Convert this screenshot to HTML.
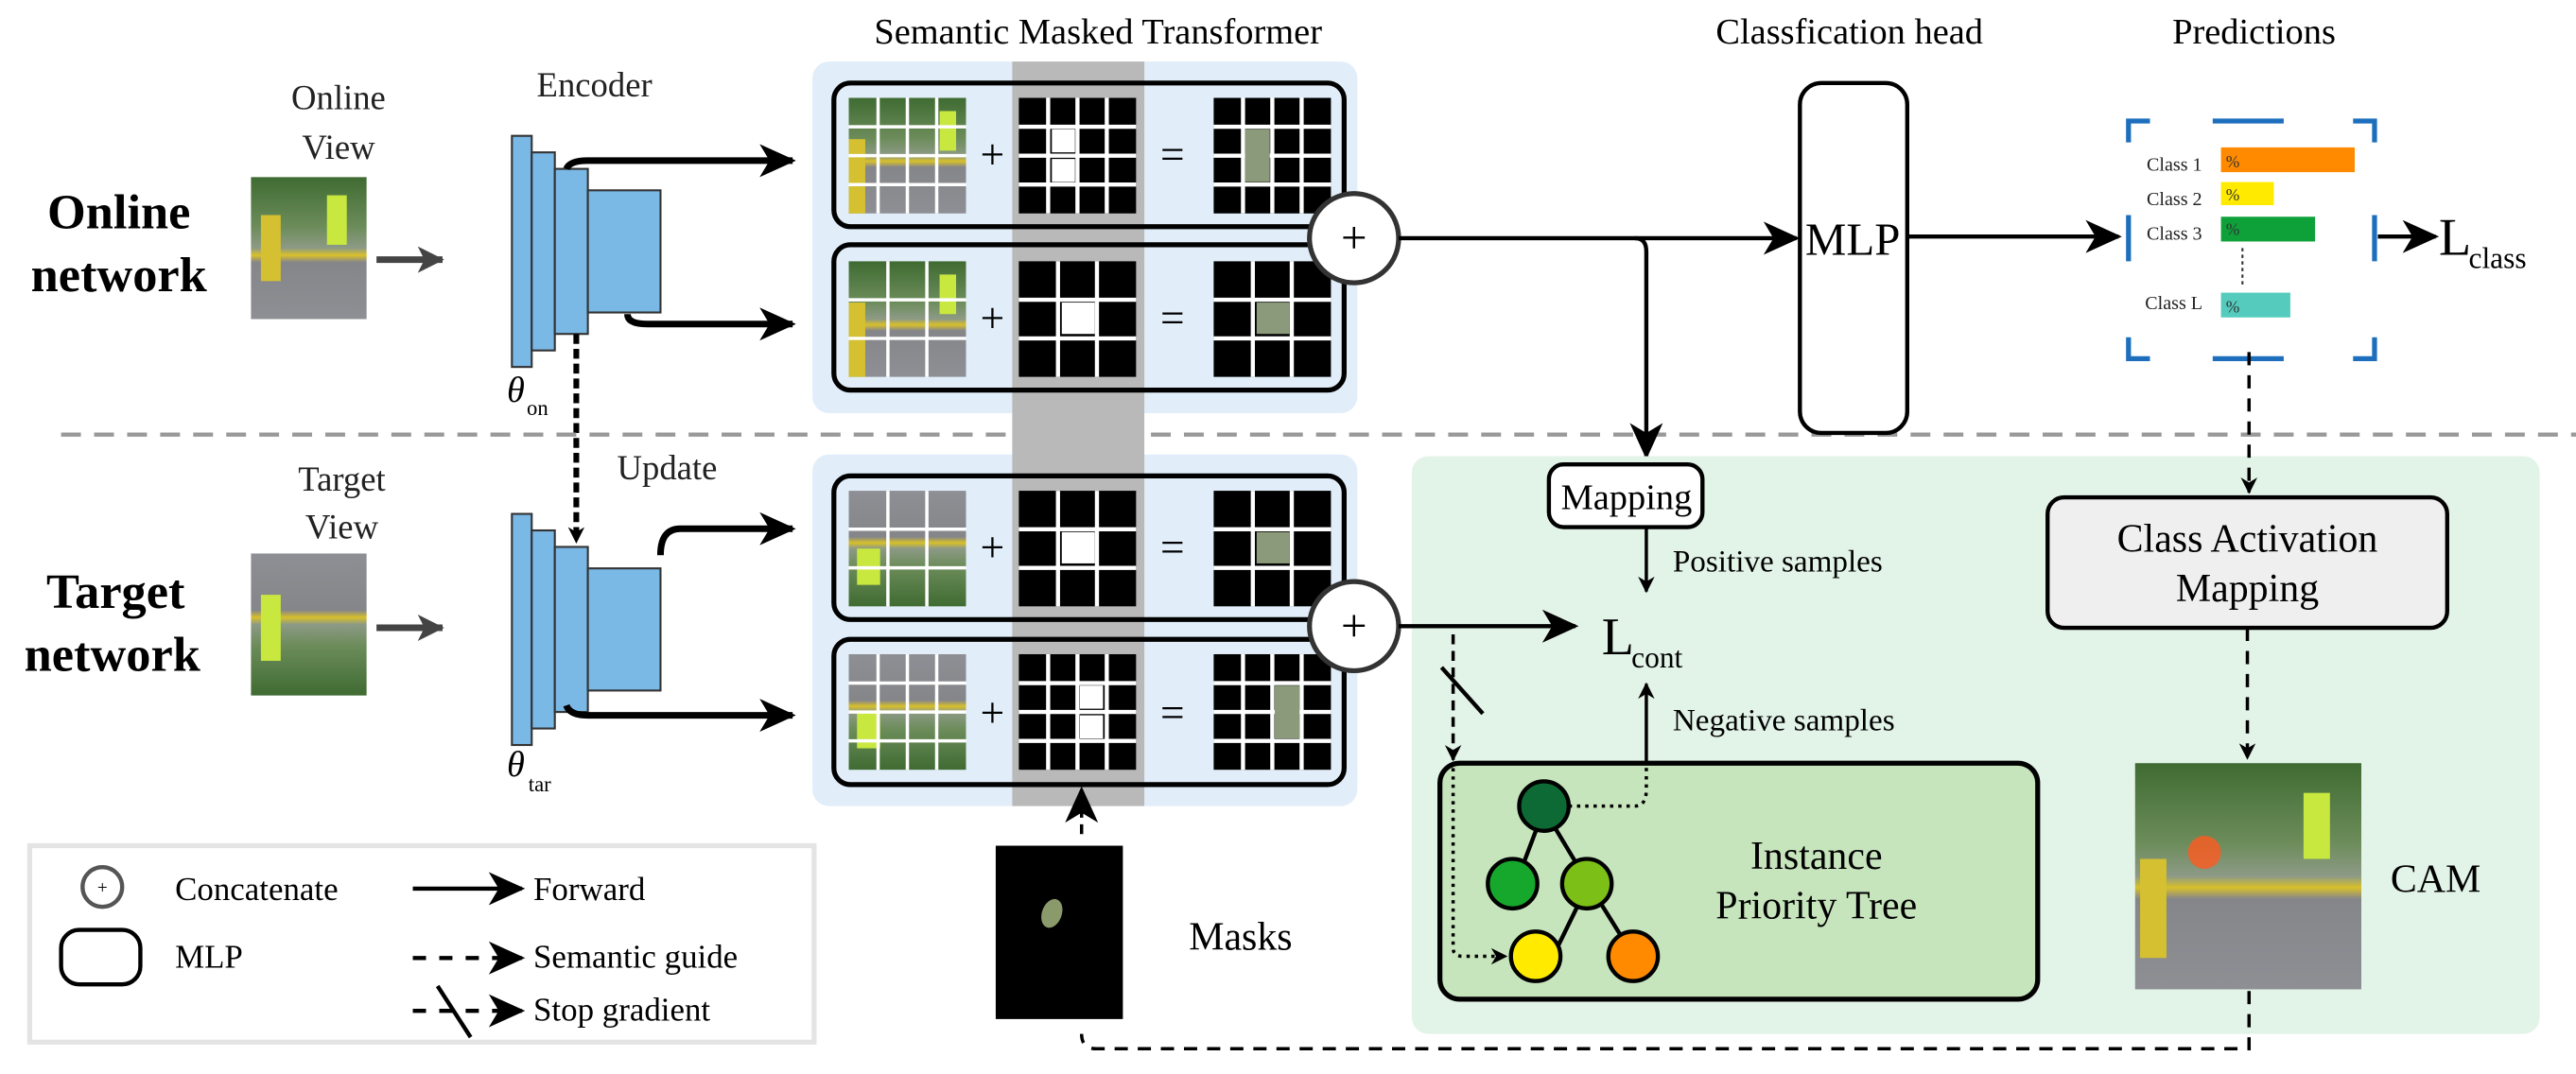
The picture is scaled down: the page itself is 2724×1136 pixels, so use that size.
<!DOCTYPE html>
<html><head><meta charset="utf-8"><style>
html,body{margin:0;padding:0;background:#fff;}
svg{display:block;}
svg text{font-family:"Liberation Serif",serif !important;}
</style></head><body>
<svg width="2724" height="1136" viewBox="0 0 1560 650" xmlns="http://www.w3.org/2000/svg" style="font-family:'Liberation Serif',serif">
<defs>
<marker id="ah" markerWidth="10" markerHeight="10" refX="9" refY="5" orient="auto" markerUnits="userSpaceOnUse" viewBox="0 0 10 10"><path d="M0,0 L10,5 L0,10 L3,5 Z" fill="#000"/></marker>
<marker id="ahL" markerWidth="22" markerHeight="20" refX="20" refY="10" orient="auto" markerUnits="userSpaceOnUse" viewBox="0 0 22 20"><path d="M0,0 L22,10 L0,20 L6,10 Z" fill="#000"/></marker>
<marker id="ahG" markerWidth="16" markerHeight="16" refX="15" refY="8" orient="auto" markerUnits="userSpaceOnUse" viewBox="0 0 16 16"><path d="M0,0 L16,8 L0,16 L4,8 Z" fill="#444"/></marker>
<linearGradient id="ph" x1="0" y1="0" x2="0" y2="1">
<stop offset="0" stop-color="#3f6b32"/><stop offset="0.35" stop-color="#6c8c5a"/><stop offset="0.5" stop-color="#8d9a86"/><stop offset="0.55" stop-color="#d8c02a"/><stop offset="0.6" stop-color="#85868a"/><stop offset="1" stop-color="#8e8f94"/></linearGradient>
<linearGradient id="ph2" x1="0" y1="1" x2="0" y2="0">
<stop offset="0" stop-color="#3f6b32"/><stop offset="0.35" stop-color="#6c8c5a"/><stop offset="0.5" stop-color="#8d9a86"/><stop offset="0.55" stop-color="#d8c02a"/><stop offset="0.6" stop-color="#85868a"/><stop offset="1" stop-color="#8e8f94"/></linearGradient>
<g id="img4"><rect x="0" y="0" width="71" height="70" fill="url(#ph)"/><rect x="0" y="25" width="10" height="45" fill="#d4c030"/><rect x="55" y="8" width="10" height="24" fill="#c8e840"/>
<path d="M17.75,0V70M35.5,0V70M53.25,0V70M0,17.5H71M0,35H71M0,52.5H71" stroke="#fff" stroke-width="2"/></g>
<g id="img3"><rect x="0" y="0" width="71" height="70" fill="url(#ph)"/><rect x="0" y="25" width="10" height="45" fill="#d4c030"/><rect x="55" y="8" width="10" height="24" fill="#c8e840"/>
<path d="M23.7,0V70M47.3,0V70M0,23.3H71M0,46.7H71" stroke="#fff" stroke-width="2"/></g>
<g id="img4t"><rect x="0" y="0" width="71" height="70" fill="url(#ph2)"/><rect x="5" y="35" width="14" height="22" fill="#c8e840"/>
<path d="M17.75,0V70M35.5,0V70M53.25,0V70M0,17.5H71M0,35H71M0,52.5H71" stroke="#fff" stroke-width="2"/></g>
<g id="img3t"><rect x="0" y="0" width="71" height="70" fill="url(#ph2)"/><rect x="5" y="35" width="14" height="22" fill="#c8e840"/>
<path d="M23.7,0V70M47.3,0V70M0,23.3H71M0,46.7H71" stroke="#fff" stroke-width="2"/></g>
<g id="g4"><rect x="0" y="0" width="71" height="70" fill="#000"/><path d="M17.75,0V70M35.5,0V70M53.25,0V70M0,17.5H71M0,35H71M0,52.5H71" stroke="#fff" stroke-width="2.5"/></g>
<g id="g3"><rect x="0" y="0" width="71" height="70" fill="#000"/><path d="M23.7,0V70M47.3,0V70M0,23.3H71M0,46.7H71" stroke="#fff" stroke-width="2.5"/></g>
<g id="enc">
<rect x="310" y="0" width="12" height="140" fill="#7ab8e6" stroke="#333" stroke-width="1.2"/>
<rect x="322" y="10" width="14" height="120" fill="#7ab8e6" stroke="#333" stroke-width="1.2"/>
<rect x="336" y="20" width="20" height="100" fill="#7ab8e6" stroke="#333" stroke-width="1.2"/>
<rect x="356" y="33" width="44" height="74" fill="#7ab8e6" stroke="#333" stroke-width="1.2"/>
</g>
</defs>

<rect x="152" y="107" width="70" height="86" fill="url(#ph)"/><rect x="158" y="130" width="12" height="40" fill="#d4c030"/><rect x="198" y="118" width="12" height="30" fill="#c8e840"/>
<rect x="152" y="335" width="70" height="86" fill="url(#ph2)"/><rect x="158" y="360" width="12" height="40" fill="#c8e840"/>
<line x1="228" y1="157" x2="268" y2="157" stroke="#444" stroke-width="4" marker-end="url(#ahG)"/>
<line x1="228" y1="380" x2="268" y2="380" stroke="#444" stroke-width="4" marker-end="url(#ahG)"/>
<use href="#enc" transform="translate(0,82)"/>
<use href="#enc" transform="translate(0,311)"/>
<line x1="349" y1="202" x2="349" y2="328" stroke="#000" stroke-width="3.5" stroke-dasharray="6,3" marker-end="url(#ah)"/>

<line x1="37" y1="263" x2="1560" y2="263" stroke="#999" stroke-width="2.5" stroke-dasharray="12,8"/>

<rect x="492" y="37" width="330" height="213" rx="10" fill="#e1eef9"/>
<rect x="492" y="275" width="330" height="213" rx="10" fill="#e1eef9"/>
<rect x="613" y="37" width="80" height="451" fill="#b9b9b9"/>
<g fill="none" stroke="#000" stroke-width="3">
<rect x="505" y="50" width="309" height="87" rx="10"/>
<rect x="505" y="148" width="309" height="88" rx="10"/>
<rect x="505" y="288" width="309" height="87" rx="10"/>
<rect x="505" y="387" width="309" height="88" rx="10"/>
</g>
<use href="#img4" transform="translate(514,59)"/>
<use href="#g4" transform="translate(617,59)"/>
<rect x="637" y="78" width="14" height="14" fill="#fff"/><rect x="637" y="96" width="14" height="14" fill="#fff"/>
<use href="#g4" transform="translate(735,59)"/>
<rect x="754" y="78" width="15" height="32" fill="#8a9a7a"/>
<use href="#img3" transform="translate(514,158)"/>
<use href="#g3" transform="translate(617,158)"/>
<rect x="643" y="183" width="20" height="19" fill="#fff"/>
<use href="#g3" transform="translate(735,158)"/>
<rect x="761" y="183" width="20" height="19" fill="#8a9a7a"/>
<use href="#img3t" transform="translate(514,297)"/>
<use href="#g3" transform="translate(617,297)"/>
<rect x="643" y="322" width="20" height="19" fill="#fff"/>
<use href="#g3" transform="translate(735,297)"/>
<rect x="761" y="322" width="20" height="19" fill="#8a9a7a"/>
<use href="#img4t" transform="translate(514,396)"/>
<use href="#g4" transform="translate(617,396)"/>
<rect x="654" y="415" width="14" height="14" fill="#fff"/><rect x="654" y="433" width="14" height="14" fill="#fff"/>
<use href="#g4" transform="translate(735,396)"/>
<rect x="772" y="415" width="15" height="32" fill="#8a9a7a"/>
<g fill="none" stroke="#000" stroke-width="4">
<path d="M343,102 Q345,97 356,97 L480,97" marker-end="url(#ahL)"/>
<path d="M380,190 Q380,196 392,196 L480,196" marker-end="url(#ahL)"/>
<path d="M400,336 Q400,320 412,320 L480,320" marker-end="url(#ahL)"/>
<path d="M343,427 Q345,433 356,433 L480,433" marker-end="url(#ahL)"/>
</g>
<circle cx="820" cy="144" r="27" fill="#fff" stroke="#333" stroke-width="3"/>
<circle cx="820" cy="379" r="27" fill="#fff" stroke="#333" stroke-width="3"/>

<g fill="none" stroke="#000" stroke-width="2.5">
<line x1="847" y1="144" x2="1088" y2="144" marker-end="url(#ahL)"/>
<path d="M990,144 Q997,144 997,152 L997,276" marker-end="url(#ahL)"/>
<line x1="1155" y1="143" x2="1283" y2="143" marker-end="url(#ahL)"/>
</g>
<rect x="1090" y="50" width="65" height="212" rx="13" fill="#fff" stroke="#000" stroke-width="2.5"/>

<g fill="none" stroke="#1d6fbe" stroke-width="3">
<path d="M1289,86 V73 H1302"/><path d="M1340,73 H1383"/><path d="M1425,73 H1438 V86"/>
<path d="M1289,204 V217 H1302"/><path d="M1340,217 H1383"/><path d="M1425,217 H1438 V204"/>
<path d="M1289,130 V158"/><path d="M1438,130 V158"/>
</g>
<rect x="1345" y="89" width="81" height="15" fill="#ff8a00"/>
<rect x="1345" y="110" width="32" height="14" fill="#ffea00"/>
<rect x="1345" y="131" width="57" height="15" fill="#0ea13a"/>
<rect x="1345" y="177" width="42" height="15" fill="#55cbbd"/>
<line x1="1358" y1="150" x2="1358" y2="172" stroke="#333" stroke-width="1.2" stroke-dasharray="2,2"/>
<line x1="1440" y1="143" x2="1475" y2="143" stroke="#000" stroke-width="2.5" marker-end="url(#ahL)"/>

<rect x="855" y="276" width="683" height="350" rx="10" fill="#e2f3e8"/>
<rect x="938" y="281" width="93" height="38" rx="9" fill="#fff" stroke="#000" stroke-width="2.5"/>
<line x1="997" y1="319" x2="997" y2="358" stroke="#000" stroke-width="2" marker-end="url(#ah)"/>
<line x1="847" y1="379" x2="954" y2="379" stroke="#000" stroke-width="2.5" marker-end="url(#ahL)"/>
<line x1="997" y1="462" x2="997" y2="414" stroke="#000" stroke-width="2" marker-end="url(#ah)"/>
<line x1="880" y1="384" x2="880" y2="460" stroke="#000" stroke-width="2" stroke-dasharray="6,4" marker-end="url(#ah)"/>
<line x1="873" y1="404" x2="898" y2="432" stroke="#000" stroke-width="2.5"/>
<rect x="872" y="462" width="362" height="143" rx="12" fill="#c7e5bd" stroke="#000" stroke-width="3"/>
<g stroke="#000" stroke-width="2.5"><line x1="935" y1="490" x2="918" y2="535"/><line x1="935" y1="490" x2="962" y2="535"/><line x1="962" y1="535" x2="940" y2="580"/><line x1="962" y1="535" x2="990" y2="580"/></g>
<g fill="none" stroke="#000" stroke-width="2" stroke-dasharray="2,3">
<path d="M950,488 H990 Q997,488 997,478 V462"/>
<path d="M880,465 V574 Q880,579 886,579 H912" marker-end="url(#ah)"/>
</g>
<g stroke="#000" stroke-width="2.5">
<circle cx="935" cy="488" r="15" fill="#0e6a34"/>
<circle cx="916" cy="535" r="15" fill="#16a82c"/>
<circle cx="961" cy="535" r="15" fill="#7cbf17"/>
<circle cx="930" cy="579" r="15" fill="#ffea00"/>
<circle cx="989" cy="579" r="15" fill="#ff8a00"/>
</g>
<line x1="1362" y1="213" x2="1362" y2="298" stroke="#000" stroke-width="2" stroke-dasharray="8,6" marker-end="url(#ah)"/>
<rect x="1240" y="301" width="242" height="79" rx="10" fill="#efefef" stroke="#000" stroke-width="2.5"/>
<line x1="1361" y1="380" x2="1361" y2="459" stroke="#000" stroke-width="2" stroke-dasharray="8,6" marker-end="url(#ah)"/>
<rect x="1293" y="462" width="137" height="137" fill="url(#ph)"/>
<rect x="1296" y="520" width="16" height="60" fill="#d4c030"/><rect x="1395" y="480" width="16" height="40" fill="#c8e840"/>
<circle cx="1335" cy="516" r="10" fill="#ff5a20" opacity="0.8"/>
<path d="M1362,600 V635 H664 Q655,635 655,626" fill="none" stroke="#000" stroke-width="2" stroke-dasharray="8,6"/>
<rect x="603" y="512" width="77" height="105" fill="#000"/>
<ellipse cx="637" cy="553" rx="6" ry="9" fill="#8a9a6a" transform="rotate(20 637 553)"/>
<line x1="655" y1="505" x2="655" y2="478" stroke="#000" stroke-width="2" stroke-dasharray="6,4" marker-end="url(#ahL)"/>
<rect x="18" y="512" width="475" height="119" fill="#fff" stroke="#e4e4e4" stroke-width="3"/>
<circle cx="62" cy="537" r="12" fill="#fff" stroke="#555" stroke-width="2.5"/>
<rect x="37" y="563" width="48" height="33" rx="11" fill="#fff" stroke="#000" stroke-width="2.5"/>
<line x1="250" y1="538" x2="316" y2="538" stroke="#000" stroke-width="2.5" marker-end="url(#ahL)"/>
<line x1="250" y1="580" x2="316" y2="580" stroke="#000" stroke-width="2.5" stroke-dasharray="8,8" marker-end="url(#ahL)"/>
<line x1="250" y1="612" x2="316" y2="612" stroke="#000" stroke-width="2.5" stroke-dasharray="8,8" marker-end="url(#ahL)"/>
<line x1="265" y1="597" x2="285" y2="628" stroke="#000" stroke-width="2.5"/>

<!-- ALL TEXT -->
<g font-family="Liberation Serif, serif">
<g font-weight="bold" font-size="30" text-anchor="middle">
<text x="72" y="138">Online</text><text x="72" y="176">network</text>
<text x="70" y="368">Target</text><text x="68" y="406">network</text>
</g>
<g font-size="21" text-anchor="middle" fill="#222">
<text x="205" y="66">Online</text><text x="205" y="96">View</text>
<text x="207" y="297">Target</text><text x="207" y="326">View</text>
<text x="360" y="58">Encoder</text>
<text x="404" y="290">Update</text>
</g>
<text x="307" y="243" font-size="22" font-style="italic">θ</text><text x="319" y="251" font-size="13">on</text>
<text x="307" y="470" font-size="22" font-style="italic">θ</text><text x="320" y="479" font-size="13">tar</text>
<text x="665" y="26" font-size="22" text-anchor="middle">Semantic Masked Transformer</text>
<g font-size="26" text-anchor="middle">
<text x="601" y="102">+</text><text x="710" y="102">=</text>
<text x="601" y="201">+</text><text x="710" y="201">=</text>
<text x="601" y="340">+</text><text x="710" y="340">=</text>
<text x="601" y="440">+</text><text x="710" y="440">=</text>
</g>
<text x="820" y="153" font-size="28" text-anchor="middle">+</text>
<text x="820" y="388" font-size="28" text-anchor="middle">+</text>
<text x="1120" y="26" font-size="22" text-anchor="middle">Classfication head</text>
<text x="1365" y="26" font-size="22" text-anchor="middle">Predictions</text>
<text x="1122" y="154" font-size="28" text-anchor="middle">MLP</text>
<g font-size="11.5" fill="#222">
<text x="1300" y="103">Class 1</text><text x="1300" y="124">Class 2</text><text x="1300" y="145">Class 3</text><text x="1299" y="187">Class L</text>
</g>
<g font-size="10" fill="#333"><text x="1348" y="101">%</text><text x="1348" y="121">%</text><text x="1348" y="142">%</text><text x="1348" y="189">%</text></g>
<text x="1477" y="154" font-size="32">L</text><text x="1495" y="162" font-size="18">class</text>
<text x="985" y="308" font-size="22" text-anchor="middle">Mapping</text>
<text x="1013" y="346" font-size="19">Positive samples</text>
<text x="970" y="396" font-size="32">L</text><text x="988" y="404" font-size="18">cont</text>
<text x="1013" y="442" font-size="19">Negative samples</text>
<text x="1100" y="526" font-size="24" text-anchor="middle">Instance</text>
<text x="1100" y="556" font-size="24" text-anchor="middle">Priority Tree</text>
<text x="1361" y="334" font-size="24" text-anchor="middle">Class Activation</text>
<text x="1361" y="364" font-size="24" text-anchor="middle">Mapping</text>
<text x="1475" y="540" font-size="24" text-anchor="middle">CAM</text>
<text x="720" y="575" font-size="24">Masks</text>
<text x="62" y="541" font-size="11" text-anchor="middle">+</text>
<g font-size="20"><text x="106" y="545">Concatenate</text><text x="106" y="586">MLP</text>
<text x="323" y="545">Forward</text><text x="323" y="586">Semantic guide</text><text x="323" y="618">Stop gradient</text></g>
</g>
</svg>
</body></html>
